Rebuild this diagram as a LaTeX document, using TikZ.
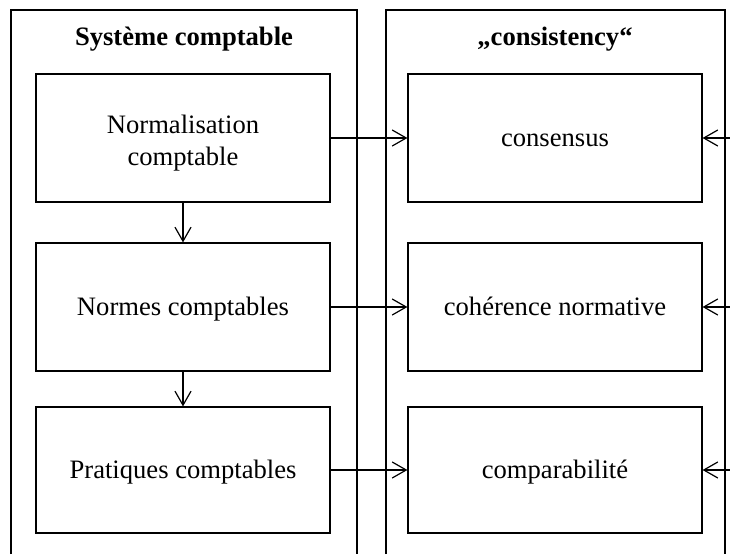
\documentclass[tikz,border=0pt]{standalone}
\usepackage{fontspec}
\setmainfont{Liberation Serif}
\usetikzlibrary{arrows.meta}
\begin{document}
\begin{tikzpicture}[x=0.5pt,y=-0.5pt,
  line width=0.6pt,
  every node/.style={font=\fontsize{13.3}{16}\selectfont},
  box/.style={draw, rectangle, minimum width=147pt, align=center, inner sep=0pt},
  oneline/.style={text height=8pt, text depth=0pt},
  twoline/.style={text height=27pt, text depth=0pt},
  title/.style={font=\fontsize{13.3}{16}\selectfont\bfseries},
  arr/.style={-{Straight Barb[length=7pt,width=8pt]}}]
\useasboundingbox (0,0) rectangle (730,554);
% containers
\draw (11,554) -- (11,10) -- (357,10) -- (357,554);
\draw (386,554) -- (386,10) -- (725,10) -- (725,554);
\node[title] (t1) at (184,39) {Système comptable};
\node[title] (t2) at (555,39) {„consistency“};
% left boxes
\node[box, twoline, minimum height=64pt] (b1) at (183,138) {Normalisation\\comptable};
\node[box, oneline, minimum height=64pt] (b2) at (183,307) {Normes comptables};
\node[box, oneline, minimum height=63pt] (b3) at (183,470) {Pratiques comptables};
% right boxes
\node[box, oneline, minimum height=64pt] (c1) at (555,138) {consensus};
\node[box, oneline, minimum height=64pt] (c2) at (555,307) {cohérence normative};
\node[box, oneline, minimum height=63pt] (c3) at (555,470) {comparabilité};
% arrows
\draw[arr] (b1) -- (b2);
\draw[arr] (b2) -- (b3);
\draw[arr] (b1) -- (c1);
\draw[arr] (b2) -- (c2);
\draw[arr] (b3) -- (c3);
\coordinate (e1) at (730,138);
\coordinate (e2) at (730,307);
\coordinate (e3) at (730,470);
\draw[arr] (e1) -- (c1.east);
\draw[arr] (e2) -- (c2.east);
\draw[arr] (e3) -- (c3.east);
\end{tikzpicture}
\end{document}
